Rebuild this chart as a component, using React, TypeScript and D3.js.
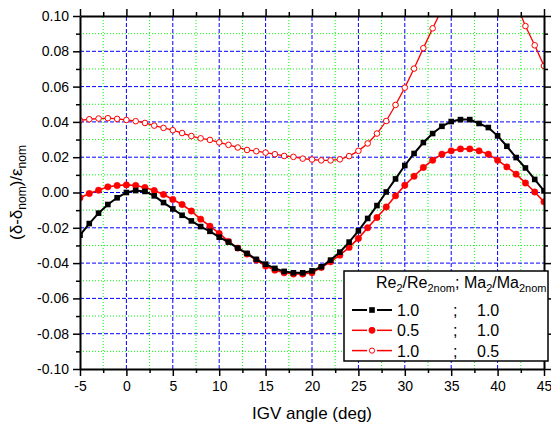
import React, { useEffect, useRef } from 'react';
import * as d3 from 'd3';

// IGV angle (deg)
const angles = [-5, -4, -3, -2, -1, 0, 1, 2, 3, 4, 5, 6, 7, 8, 9, 10, 11, 12, 13, 14, 15, 16, 17, 18, 19, 20,
  21, 22, 23, 24, 25, 26, 27, 28, 29, 30, 31, 32, 33, 34, 35, 36, 37, 38, 39, 40, 41, 42, 43, 44, 45];

// Re2/Re2nom = 1.0 ; Ma2/Ma2nom = 1.0
const seriesRe10Ma10 = [-0.0242, -0.0176, -0.0117, -0.0068, -0.0030, 0.0000, 0.0011, 0.0006, -0.0019, -0.0057,
  -0.0093, -0.0129, -0.0161, -0.0193, -0.0220, -0.0253, -0.0281, -0.0315, -0.0345, -0.0379,
  -0.0406, -0.0430, -0.0447, -0.0455, -0.0455, -0.0444, -0.0421, -0.0383, -0.0338, -0.0281,
  -0.0217, -0.0147, -0.0074, 0.0003, 0.0077, 0.0153, 0.0221, 0.0283, 0.0334, 0.0375,
  0.0402, 0.0413, 0.0413, 0.0391, 0.0368, 0.0321, 0.0262, 0.0198, 0.0139, 0.0074, 0.0009];

// Re2/Re2nom = 0.5 ; Ma2/Ma2nom = 1.0
const seriesRe05Ma10 = [-0.0030, -0.0006, 0.0013, 0.0032, 0.0040, 0.0043, 0.0040, 0.0028, 0.0011, -0.0011,
  -0.0040, -0.0068, -0.0105, -0.0151, -0.0191, -0.0232, -0.0277, -0.0315, -0.0349, -0.0383,
  -0.0417, -0.0440, -0.0455, -0.0462, -0.0462, -0.0455, -0.0425, -0.0393, -0.0355, -0.0311,
  -0.0260, -0.0200, -0.0142, -0.0082, -0.0019, 0.0041, 0.0092, 0.0142, 0.0183, 0.0217,
  0.0236, 0.0247, 0.0247, 0.0236, 0.0217, 0.0183, 0.0145, 0.0104, 0.0054, 0.0003, -0.0053];

// Re2/Re2nom = 1.0 ; Ma2/Ma2nom = 0.5
const seriesRe10Ma05 = [0.0409, 0.0415, 0.0419, 0.0421, 0.0417, 0.0411, 0.0404, 0.0394, 0.0379, 0.0366,
  0.0353, 0.0337, 0.0320, 0.0307, 0.0298, 0.0284, 0.0270, 0.0255, 0.0241, 0.0234,
  0.0226, 0.0217, 0.0207, 0.0202, 0.0192, 0.0187, 0.0182, 0.0182, 0.0188, 0.0206,
  0.0236, 0.0278, 0.0334, 0.0405, 0.0496, 0.0594, 0.0702, 0.0818, 0.0930, 0.1038,
  0.114, 0.122, 0.127, 0.129, 0.128, 0.124, 0.117, 0.107, 0.0943, 0.0834, 0.0717];

const xMajor = [-5, 0, 5, 10, 15, 20, 25, 30, 35, 40, 45];
const xMinor = [-2.5, 2.5, 7.5, 12.5, 17.5, 22.5, 27.5, 32.5, 37.5, 42.5];
const yMajor = [-0.10, -0.08, -0.06, -0.04, -0.02, 0.00, 0.02, 0.04, 0.06, 0.08, 0.10];
const yMinor = [-0.09, -0.07, -0.05, -0.03, -0.01, 0.01, 0.03, 0.05, 0.07, 0.09];

const legendRows = [
  { re: '1.0', ma: '1.0', color: '#000000', marker: 'square' },
  { re: '0.5', ma: '1.0', color: '#ff0000', marker: 'dot' },
  { re: '1.0', ma: '0.5', color: '#ff0000', marker: 'ring' },
];

const FONT = 'Arial, "Liberation Sans", sans-serif';

const App = () => {
  const svgRef = useRef(null);
  const width = 551;
  const height = 425;
  const margin = { top: 16, right: 7, bottom: 56, left: 80 };

  useEffect(() => {
    const svg = d3.select(svgRef.current);
    svg.selectAll('*').remove();

    const xScale = d3.scaleLinear().domain([-5, 45]).range([margin.left, width - margin.right]);
    const yScale = d3.scaleLinear().domain([-0.1, 0.1]).range([height - margin.bottom, margin.top]);
    const x0 = margin.left, x1 = width - margin.right;
    const y0 = height - margin.bottom, y1 = margin.top;

    svg.append('defs').append('clipPath').attr('id', 'plotclip')
      .append('rect').attr('x', x0).attr('y', y1).attr('width', x1 - x0).attr('height', y0 - y1);

    /* grid --------------------------------------- */
    const grid = svg.append('g');
    grid.selectAll('.vminor').data(xMinor).join('line')
      .attr('x1', d => xScale(d)).attr('x2', d => xScale(d)).attr('y1', y0).attr('y2', y1)
      .attr('stroke', '#00ff00').attr('stroke-dasharray', '1,2');
    grid.selectAll('.hminor').data(yMinor).join('line')
      .attr('y1', d => yScale(d)).attr('y2', d => yScale(d)).attr('x1', x0).attr('x2', x1)
      .attr('stroke', '#00ff00').attr('stroke-dasharray', '1,2');
    grid.selectAll('.vmajor').data(xMajor.slice(1, -1)).join('line')
      .attr('x1', d => xScale(d)).attr('x2', d => xScale(d)).attr('y1', y0).attr('y2', y1)
      .attr('stroke', '#0000ff').attr('stroke-dasharray', '4,2');
    grid.selectAll('.hmajor').data(yMajor.slice(1, -1)).join('line')
      .attr('y1', d => yScale(d)).attr('y2', d => yScale(d)).attr('x1', x0).attr('x2', x1)
      .attr('stroke', '#0000ff').attr('stroke-dasharray', '4,2');

    /* series ------------------------------------- */
    const plot = svg.append('g').attr('clip-path', 'url(#plotclip)');
    const line = d3.line().x(d => xScale(d[0])).y(d => yScale(d[1]));
    const pts = (vals) => angles.map((a, i) => [a, vals[i]]);

    const series = [
      { vals: seriesRe10Ma05, color: '#ff0000', w: 1.3, marker: 'ring' },
      { vals: seriesRe05Ma10, color: '#ff0000', w: 1.6, marker: 'dot' },
      { vals: seriesRe10Ma10, color: '#000000', w: 2, marker: 'square' },
    ];

    series.forEach(s => {
      plot.append('path').datum(pts(s.vals))
        .attr('d', line).attr('fill', 'none').attr('stroke', s.color).attr('stroke-width', s.w);
      if (s.marker === 'square') {
        plot.append('g').selectAll('rect').data(pts(s.vals)).join('rect')
          .attr('x', d => xScale(d[0]) - 2.8).attr('y', d => yScale(d[1]) - 2.8)
          .attr('width', 5.6).attr('height', 5.6).attr('fill', s.color);
      } else {
        plot.append('g').selectAll('circle').data(pts(s.vals)).join('circle')
          .attr('cx', d => xScale(d[0])).attr('cy', d => yScale(d[1]))
          .attr('r', s.marker === 'dot' ? 3.2 : 2.8)
          .attr('fill', s.marker === 'dot' ? s.color : '#ffffff')
          .attr('stroke', s.color).attr('stroke-width', s.marker === 'dot' ? 0.5 : 1);
      }
    });

    /* axes --------------------------------------- */
    const styleAxis = (g, labels) => {
      g.select('.domain').attr('stroke', '#000').attr('stroke-width', 2);
      g.selectAll('.tick line').attr('stroke', '#000').attr('stroke-width', 1.5);
      g.selectAll('text').attr('font-family', FONT).attr('font-size', 14).attr('fill', '#000');
      if (!labels) g.selectAll('text').remove();
    };
    const minor = (g) => { g.select('.domain').remove(); g.selectAll('.tick line').attr('stroke', '#000').attr('stroke-width', 1.5); g.selectAll('text').remove(); };

    svg.append('g').attr('transform', `translate(0,${y0})`)
      .call(d3.axisBottom(xScale).tickValues(xMinor).tickSize(4).tickSizeOuter(0)).call(minor);
    svg.append('g').attr('transform', `translate(0,${y1})`)
      .call(d3.axisTop(xScale).tickValues(xMinor).tickSize(4).tickSizeOuter(0)).call(minor);
    svg.append('g').attr('transform', `translate(${x0},0)`)
      .call(d3.axisLeft(yScale).tickValues(yMinor).tickSize(4).tickSizeOuter(0)).call(minor);
    svg.append('g').attr('transform', `translate(${x1},0)`)
      .call(d3.axisRight(yScale).tickValues(yMinor).tickSize(4).tickSizeOuter(0)).call(minor);

    svg.append('g').attr('transform', `translate(0,${y0})`)
      .call(d3.axisBottom(xScale).tickValues(xMajor).tickSize(7).tickSizeOuter(0).tickPadding(5)
        .tickFormat(d => String(d)))
      .call(g => styleAxis(g, true));
    svg.append('g').attr('transform', `translate(0,${y1})`)
      .call(d3.axisTop(xScale).tickValues(xMajor).tickSize(7).tickSizeOuter(0))
      .call(g => styleAxis(g, false));
    svg.append('g').attr('transform', `translate(${x0},0)`)
      .call(d3.axisLeft(yScale).tickValues(yMajor).tickSize(7).tickSizeOuter(0).tickPadding(4)
        .tickFormat(d => d.toFixed(2)))
      .call(g => styleAxis(g, true));
    svg.append('g').attr('transform', `translate(${x1},0)`)
      .call(d3.axisRight(yScale).tickValues(yMajor).tickSize(7).tickSizeOuter(0))
      .call(g => styleAxis(g, false));

    /* axis titles -------------------------------- */
    svg.append('text')
      .attr('x', (x0 + x1) / 2).attr('y', 419).attr('text-anchor', 'middle')
      .attr('font-family', FONT).attr('font-size', 17).text('IGV angle (deg)');

    const yt = svg.append('text')
      .attr('transform', `translate(22,${(y0 + y1) / 2}) rotate(-90)`).attr('text-anchor', 'middle')
      .attr('font-family', FONT).attr('font-size', 17);
    yt.append('tspan').text('(δ-δ');
    yt.append('tspan').attr('font-size', 12).attr('dy', 4).text('nom');
    yt.append('tspan').attr('dy', -4).text(')/ε');
    yt.append('tspan').attr('font-size', 12).attr('dy', 4).text('nom');

    /* legend ------------------------------------- */
    const lg = svg.append('g');
    lg.append('rect').attr('x', 344).attr('y', 271).attr('width', 204).attr('height', 90)
      .attr('fill', '#fff').attr('stroke', '#000').attr('stroke-width', 1.5);

    const hd = lg.append('text').attr('x', 376).attr('y', 288)
      .attr('font-family', FONT).attr('font-size', 16);
    [['Re', 0], ['2', 1], ['/Re', 0], ['2nom', 1], ['; Ma', 0], ['2', 1], ['/Ma', 0], ['2nom', 1]]
      .forEach(([t, sub], i) => {
        hd.append('tspan')
          .attr('font-size', sub ? 11 : 16)
          .attr('dy', i === 0 ? 0 : (sub ? 4 : -4))
          .text(t);
      });

    legendRows.forEach((r, i) => {
      const cy = 310 + i * 20.3;
      const lw = r.marker === 'square' ? 2 : 1.5;
      // line broken around the marker
      lg.append('line').attr('x1', 352).attr('x2', 367).attr('y1', cy).attr('y2', cy)
        .attr('stroke', r.color).attr('stroke-width', lw);
      lg.append('line').attr('x1', 377).attr('x2', 392).attr('y1', cy).attr('y2', cy)
        .attr('stroke', r.color).attr('stroke-width', lw);
      if (r.marker === 'square') {
        lg.append('rect').attr('x', 372 - 2.8).attr('y', cy - 2.8).attr('width', 5.6).attr('height', 5.6)
          .attr('fill', r.color);
      } else {
        lg.append('circle').attr('cx', 372).attr('cy', cy).attr('r', r.marker === 'dot' ? 3 : 2.6)
          .attr('fill', r.marker === 'dot' ? r.color : '#fff').attr('stroke', r.color).attr('stroke-width', 1);
      }
      lg.append('text').attr('x', 397).attr('y', cy + 6).attr('font-family', FONT).attr('font-size', 16).text(r.re);
      lg.append('text').attr('x', 453).attr('y', cy + 6).attr('font-family', FONT).attr('font-size', 16).text(';');
      lg.append('text').attr('x', 477).attr('y', cy + 6).attr('font-family', FONT).attr('font-size', 16).text(r.ma);
    });
  }, []);

  return (
    <svg ref={svgRef} width={width} height={height}
      style={{ position: 'absolute', left: 0, top: 0, background: '#fff' }} />
  );
};

export default App;
